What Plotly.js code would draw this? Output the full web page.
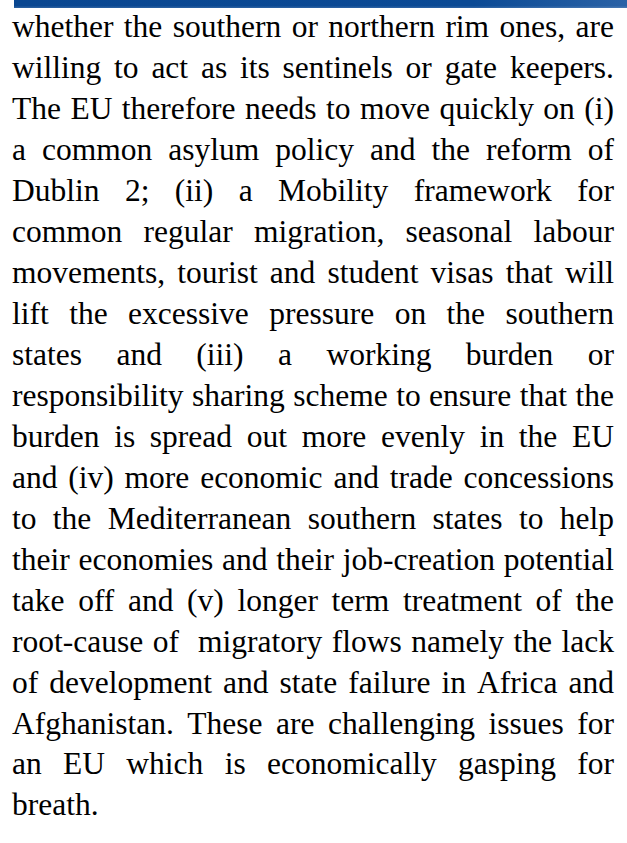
<!DOCTYPE html>
<html><head><meta charset="utf-8">
<script src="https://cdn.plot.ly/plotly-3.0.1.min.js"></script>
<style>html,body{margin:0;padding:0;background:#fff;overflow:hidden}</style>
</head><body><div id="chart" style="width:627px;height:843px"></div>
<script>
// Text lines of the page (as broken in the reference)
const lines = [
  "whether the southern or northern rim ones, are",
  "willing to act as its sentinels or gate keepers.",
  "The EU therefore needs to move quickly on (i)",
  "a common asylum policy and the reform of",
  "Dublin 2; (ii) a Mobility framework for",
  "common regular migration, seasonal labour",
  "movements, tourist and student visas that will",
  "lift the excessive pressure on the southern",
  "states and (iii) a working burden or",
  "responsibility sharing scheme to ensure that the",
  "burden is spread out more evenly in the EU",
  "and (iv) more economic and trade concessions",
  "to the Mediterranean southern states to help",
  "their economies and their job-creation potential",
  "take off and (v) longer term treatment of the",
  "root-cause of  migratory flows namely the lack",
  "of development and state failure in Africa and",
  "Afghanistan. These are challenging issues for",
  "an EU which is economically gasping for",
  "breath."
];
// whether each line is justified (last line of the paragraph is not)
const justified = lines.map((l, i) => i < lines.length - 1);

const W = 627, H = 843;
const FONT_FAMILY = 'Liberation Serif';
const FONT_SIZE = 31.5;
const LEFT = 12, RIGHT = 614;
const FIRST_LINE_Y = 29.5, LINE_STEP = 40.95;

const ctx = document.createElement('canvas').getContext('2d');
ctx.font = FONT_SIZE + 'px ' + FONT_FAMILY;
const spaceW = ctx.measureText(' ').width;

const wx = [], wy = [], wt = [];
lines.forEach((line, i) => {
  const toks = line.split(' ');
  const widths = toks.map(t => ctx.measureText(t).width);
  const total = widths.reduce((a, b) => a + b, 0);
  const nGaps = toks.length - 1;
  let gap = (justified[i] && nGaps > 0) ? (RIGHT - LEFT - total) / nGaps : spaceW;
  let x = LEFT;
  toks.forEach((t, k) => {
    if (t.length) { wx.push(x); wy.push(i); wt.push(t); }
    x += widths[k] + gap;
  });
});

const data = [{
  type: 'scatter', mode: 'text', x: wx, y: wy, text: wt,
  textposition: 'middle right',
  textfont: {family: FONT_FAMILY, size: FONT_SIZE, color: '#000000'},
  hoverinfo: 'skip', showlegend: false, cliponaxis: false
}];

const yTop = -FIRST_LINE_Y / LINE_STEP;
const yBot = (H - FIRST_LINE_Y) / LINE_STEP;

const layout = {
  width: W, height: H,
  margin: {l: 0, r: 0, t: 0, b: 0, pad: 0},
  paper_bgcolor: '#ffffff', plot_bgcolor: '#ffffff',
  xaxis: {range: [0, W], visible: false, fixedrange: true},
  yaxis: {range: [yBot, yTop], visible: false, fixedrange: true},
  showlegend: false,
  images: [{
    source: 'data:image/svg+xml;utf8,' + encodeURIComponent(
      '<svg xmlns="http://www.w3.org/2000/svg" width="613" height="8" preserveAspectRatio="none">' +
      '<defs><linearGradient id="g" x1="0" y1="0" x2="1" y2="0">' +
      '<stop offset="0" stop-color="#0a4791"/><stop offset="0.75" stop-color="#0b4a95"/>' +
      '<stop offset="1" stop-color="#2a62a6"/></linearGradient>' +
      '<linearGradient id="v" x1="0" y1="0" x2="0" y2="1">' +
      '<stop offset="0" stop-color="#ffffff" stop-opacity="0"/><stop offset="0.7" stop-color="#ffffff" stop-opacity="0"/>' +
      '<stop offset="1" stop-color="#ffffff" stop-opacity="0.15"/></linearGradient></defs>' +
      '<rect width="613" height="8" fill="url(#g)"/><rect width="613" height="8" fill="url(#v)"/></svg>'),
    xref: 'paper', yref: 'paper', x: 14 / W, y: 1, sizex: 613 / W, sizey: 8 / H,
    xanchor: 'left', yanchor: 'top', sizing: 'stretch', layer: 'above'
  }]
};

Plotly.newPlot('chart', data, layout, {staticPlot: true, displayModeBar: false});
</script>
</body></html>
